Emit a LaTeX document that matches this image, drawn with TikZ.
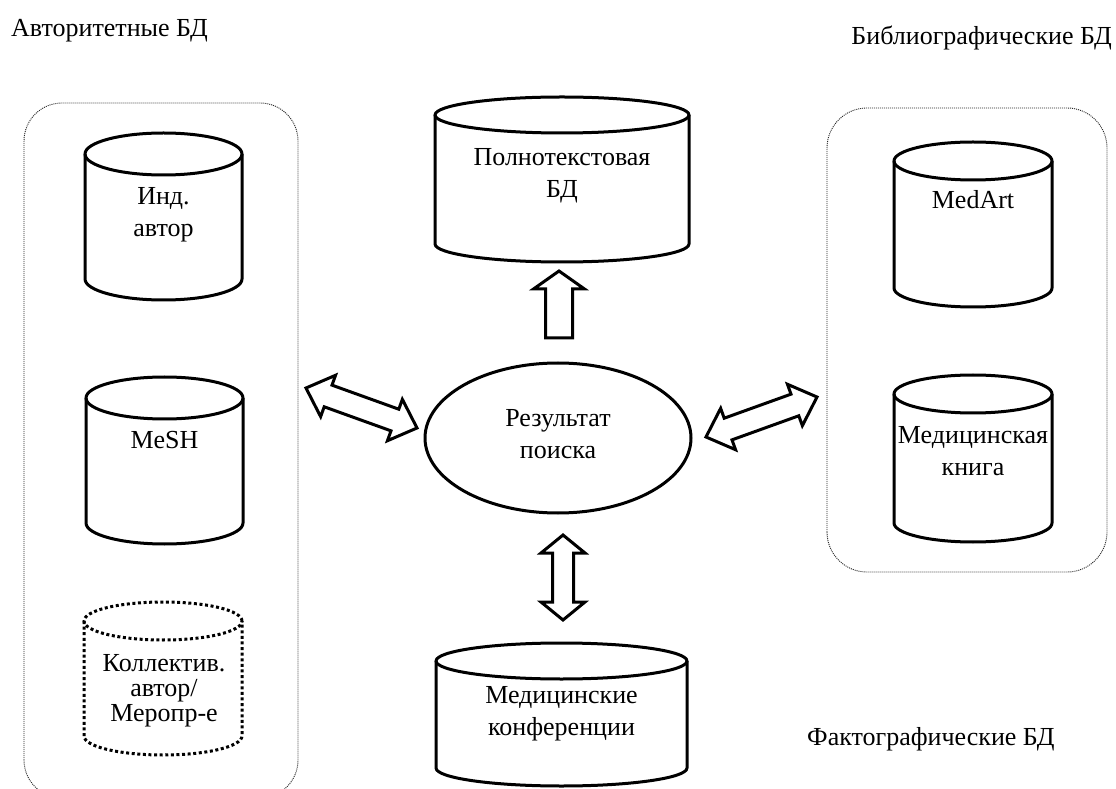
\documentclass[tikz,border=0pt]{standalone}
\usepackage{fontspec}
\setmainfont{Liberation Serif}
\usetikzlibrary{calc,shapes.geometric}
\tikzset{
  cyl/.style={line width=3pt, line join=round},
  dotcyl/.style={line width=3pt, dash pattern=on 3pt off 2.6pt},
  grp/.style={line width=0.9pt, draw=black!85, dash pattern=on 1pt off 1pt, rounded corners=#1},
  blk/.style={line width=3pt, fill=white, line join=miter},
  lbl/.style={align=center, inner sep=0pt, font=\fontsize{26}{32}\selectfont},
  toplbl/.style={inner sep=0pt, font=\fontsize{26}{32}\selectfont},
  res/.style={ellipse, draw, line width=3pt, minimum width=266pt, minimum height=150pt, inner sep=0pt}
}
% #1 extra style, #2 name, #3 cx, #4 top (px), #5 bottom (px), #6 rx, #7 ry
\newcommand\dbcyl[7][]{%
  \pgfmathsetmacro\cylyt{788-#4-#7}%
  \pgfmathsetmacro\cylyb{788-#5+#7}%
  \node[inner sep=0pt, minimum width={2*#6pt}, minimum height={(#5-#4)*1pt}] (#2) at (#3,{788-(#4+#5)/2}) {};
  \draw[cyl,#1] (#3-#6,\cylyt) -- (#3-#6,\cylyb) arc[start angle=180,end angle=360,x radius=#6pt,y radius=#7pt] -- (#3+#6,\cylyt);
  \draw[cyl,#1] (#3,\cylyt) ellipse[x radius=#6pt, y radius=#7pt];
}
% double block arrow: #1 name, #2 cx, #3 cy, #4 angle, #5 length, #6 head length, #7 head half width, #8 shaft half width
\newcommand\dblarrow[8]{%
  \coordinate (#1) at (#2,#3);
  \begin{scope}[shift={(#1)}, rotate=#4]
    \draw[blk] (-#5/2,0) -- (-#5/2+#6,#7) -- (-#5/2+#6,#8) -- (#5/2-#6,#8) -- (#5/2-#6,#7) -- (#5/2,0)
      -- (#5/2-#6,-#7) -- (#5/2-#6,-#8) -- (-#5/2+#6,-#8) -- (-#5/2+#6,-#7) -- cycle;
  \end{scope}
}
\newcommand\sglarrow[8]{%
  \coordinate (#1) at (#2,#3);
  \begin{scope}[shift={(#1)}, rotate=#4]
    \draw[blk] (-#5/2,#8) -- (#5/2-#6,#8) -- (#5/2-#6,#7) -- (#5/2,0)
      -- (#5/2-#6,-#7) -- (#5/2-#6,-#8) -- (-#5/2,-#8) -- cycle;
  \end{scope}
}
\begin{document}
\begin{tikzpicture}[x=1pt,y=1pt]
\clip (0,0) rectangle (1116,788);
\fill[white] (0,0) rectangle (1116,788);

% group boxes
\draw[grp=38pt] (24,-10) rectangle (298,685);
\draw[grp=40pt] (827,216) rectangle (1107,680);

% group labels
\node[toplbl, anchor=west] (auth) at (11,757) {Авторитетные БД};
\node[toplbl, anchor=east] (bibl) at (1112,750) {Библиографические БД};
\node[toplbl, anchor=west] (fact) at (807,49) {Фактографические БД};

% left column
\dbcyl{ind}{163.5}{133}{300}{78.5}{21}
\node[lbl] (ind-t) at (163.5,573) {Инд.\\автор};
\dbcyl{mesh}{164.5}{377}{544}{78.5}{21}
\node[lbl] (mesh-t) at (164.5,348) {MeSH};
\dbcyl[dotcyl]{koll}{163}{602}{755}{79}{19}
\node[lbl, font=\fontsize{26}{25}\selectfont] (koll-t) at (164,97) {Коллектив.\\автор/\\Меропр-е};

% centre column
\dbcyl{poln}{562}{97}{262}{127}{18}
\node[lbl] (poln-t) at (562,612) {Полнотекстовая\\БД};
\node[res] (res) at (558,350) {};
\node[lbl] (res-t) at (558,354) {Результат\\поиска};
\dbcyl{conf}{561.5}{643}{786}{125.5}{18}
\node[lbl] (conf-t) at (561.5,74) {Медицинские\\конференции};

% right column
\dbcyl{medart}{973}{142}{307}{79}{19}
\node[lbl] (medart-t) at (973,588) {MedArt};
\dbcyl{medbook}{973}{375}{542}{79}{19}
\node[lbl] (medbook-t) at (973,337) {Медицинская\\книга};

% block arrows
\dblarrow{arrL}{361.5}{380}{-19.8}{118}{23.5}{22}{11.5}
\dblarrow{arrR}{761.5}{371}{19.8}{118}{23.5}{22}{11.5}
\dblarrow{arrD}{563}{210.5}{90}{85}{18}{22}{10.5}
\sglarrow{arrU}{559}{483.5}{90}{67}{18}{25.5}{13.5}
\end{tikzpicture}
\end{document}
